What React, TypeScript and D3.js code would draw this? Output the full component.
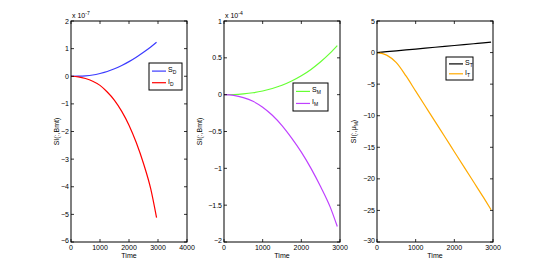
import React from "react";
import * as d3 from "d3";

const timeD = [0, 250, 500, 750, 1000, 1250, 1500, 1750, 2000, 2250, 2500, 2750, 2950];
const sD = [0, 0.003, 0.015, 0.045, 0.1, 0.17, 0.27, 0.39, 0.53, 0.69, 0.87, 1.06, 1.23];
const iD = [0, -0.02, -0.08, -0.18, -0.33, -0.57, -0.87, -1.27, -1.77, -2.4, -3.16, -4.08, -5.12];

const timeM = [0, 250, 500, 750, 1000, 1250, 1500, 1750, 2000, 2250, 2500, 2750, 2930];
const sM = [0, 0.0024, 0.011, 0.026, 0.05, 0.084, 0.128, 0.186, 0.257, 0.343, 0.447, 0.567, 0.665];
const iM = [0, -0.01, -0.04, -0.09, -0.17, -0.28, -0.42, -0.59, -0.78, -1.0, -1.25, -1.53, -1.79];

const timeT = [0, 250, 500, 750, 1000, 1250, 1500, 1750, 2000, 2250, 2500, 2750, 2950];
const sT = [0, 0.14, 0.28, 0.42, 0.56, 0.7, 0.84, 0.98, 1.12, 1.26, 1.4, 1.54, 1.65];
const iT = [0, -0.4, -1.6, -3.7, -6.1, -8.5, -10.9, -13.3, -15.7, -18.1, -20.5, -22.9, -24.9];

const xTicks1 = [0, 1000, 2000, 3000, 4000];
const xTicks23 = [0, 1000, 2000, 3000];
const yTicks1 = [-6, -5, -4, -3, -2, -1, 0, 1, 2];
const yTicks2 = [-2, -1.5, -1, -0.5, 0, 0.5, 1];
const yTicks3 = [-30, -25, -20, -15, -10, -5, 0, 5];

const FONT = "'Liberation Sans', Arial, Helvetica, sans-serif";
const FS = 7;

type Series = { t: number[]; v: number[]; color: string; name: string; sub: string };
type PanelProps = {
  left: number; right: number; top: number; bottom: number;
  xDomain: [number, number]; yDomain: [number, number];
  xTicks: number[]; yTicks: number[];
  series: Series[];
  exponent?: string;
  ylabel: React.ReactNode;
  ylabelX: number;
  legend: { x: number; y: number; w: number; h: number };
};

function fmt(v: number) {
  return v < 0 ? "\u2212" + String(-v) : String(v);
}

function Panel(p: PanelProps) {
  const x = d3.scaleLinear().domain(p.xDomain).range([p.left, p.right]);
  const y = d3.scaleLinear().domain(p.yDomain).range([p.bottom, p.top]);
  const tl = 3;
  const cy = (p.top + p.bottom) / 2;
  return (
    <g fontFamily={FONT} fontSize={FS} fill="#000">
      {p.series.map((s, k) => {
        const line = d3.line<number>().x((_, i) => x(s.t[i])).y((d) => y(d)).curve(d3.curveMonotoneX);
        return <path key={k} d={line(s.v) || ""} fill="none" stroke={s.color} strokeWidth={1.2} />;
      })}
      <rect x={p.left} y={p.top} width={p.right - p.left} height={p.bottom - p.top} fill="none" stroke="#000" strokeWidth={1} />
      {p.xTicks.map((t) => (
        <g key={"x" + t}>
          <line x1={x(t)} x2={x(t)} y1={p.bottom} y2={p.bottom - tl} stroke="#000" strokeWidth={0.8} />
          <line x1={x(t)} x2={x(t)} y1={p.top} y2={p.top + tl} stroke="#000" strokeWidth={0.8} />
          <text x={x(t)} y={p.bottom + 8} textAnchor="middle">{fmt(t)}</text>
        </g>
      ))}
      {p.yTicks.map((t) => (
        <g key={"y" + t}>
          <line x1={p.left} x2={p.left + tl} y1={y(t)} y2={y(t)} stroke="#000" strokeWidth={0.8} />
          <line x1={p.right} x2={p.right - tl} y1={y(t)} y2={y(t)} stroke="#000" strokeWidth={0.8} />
          <text x={p.left - 2} y={y(t) + 2.5 - (t === p.yDomain[0] ? 2 : 0)} textAnchor="end">{fmt(t)}</text>
        </g>
      ))}
      {p.exponent && (
        <text x={p.left + 1} y={p.top - 3}>
          x 10<tspan dy={-3} fontSize={5}>{p.exponent}</tspan>
        </text>
      )}
      <text x={(p.left + p.right) / 2} y={p.bottom + 16} textAnchor="middle">Time</text>
      <text transform={`translate(${p.ylabelX},${cy}) rotate(-90)`} textAnchor="middle">{p.ylabel}</text>
      <g>
        <rect x={p.legend.x} y={p.legend.y} width={p.legend.w} height={p.legend.h} fill="#fff" stroke="#000" strokeWidth={1} />
        {p.series.map((s, k) => {
          const ly = p.legend.y + p.legend.h * (k === 0 ? 0.3 : 0.73);
          return (
            <g key={k}>
              <line x1={p.legend.x + 3} x2={p.legend.x + 17} y1={ly} y2={ly} stroke={s.color} strokeWidth={1.2} />
              <text x={p.legend.x + 19} y={ly + 1}>
                {s.name}
                <tspan dy={2} fontSize={5}>{s.sub}</tspan>
              </text>
            </g>
          );
        })}
      </g>
    </g>
  );
}

export default function App() {
  return (
    <svg width={545} height={273} style={{ position: "absolute", left: 0, top: 0, background: "#fff" }}>
      <rect width={545} height={273} fill="#fff" />
      <Panel
        left={71} right={187} top={21} bottom={242}
        xDomain={[0, 4000]} yDomain={[-6, 2]}
        xTicks={xTicks1} yTicks={yTicks1}
        series={[
          { t: timeD, v: sD, color: "#3b3bff", name: "S", sub: "D" },
          { t: timeD, v: iD, color: "#ff0000", name: "I", sub: "D" },
        ]}
        exponent="-7"
        ylabel="SI(:,Bmt)"
        ylabelX={59}
        legend={{ x: 149, y: 63, w: 33, h: 27 }}
      />
      <Panel
        left={224} right={340} top={21} bottom={242}
        xDomain={[0, 3000]} yDomain={[-2, 1]}
        xTicks={xTicks23} yTicks={yTicks2}
        series={[
          { t: timeM, v: sM, color: "#66ff33", name: "S", sub: "M" },
          { t: timeM, v: iM, color: "#bf40ff", name: "I", sub: "M" },
        ]}
        exponent="-4"
        ylabel="SI(:,Bmt)"
        ylabelX={202}
        legend={{ x: 293, y: 83, w: 35, h: 28 }}
      />
      <Panel
        left={377} right={493} top={21} bottom={242}
        xDomain={[0, 3000]} yDomain={[-30, 5]}
        xTicks={xTicks23} yTicks={yTicks3}
        series={[
          { t: timeT, v: sT, color: "#000000", name: "S", sub: "T" },
          { t: timeT, v: iT, color: "#ffaa00", name: "I", sub: "T" },
        ]}
        ylabel={<>SI(:,μ<tspan dy={2} fontSize={5}>M</tspan><tspan dy={-2}>)</tspan></>}
        ylabelX={356}
        legend={{ x: 446, y: 57, w: 27, h: 23 }}
      />
    </svg>
  );
}
